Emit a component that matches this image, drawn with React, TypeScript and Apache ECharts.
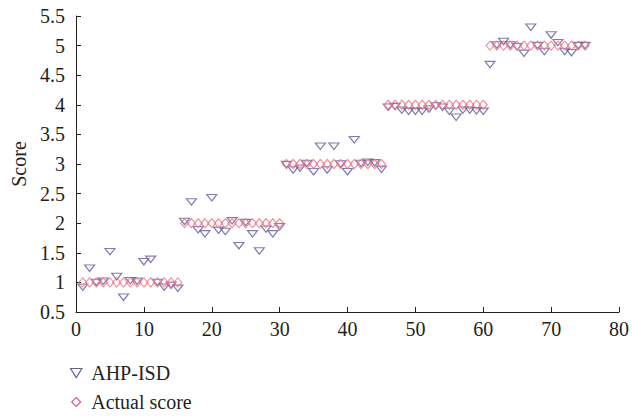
import React, { useEffect, useRef } from "react";
import * as echarts from "echarts";

const ahpIsd: number[] = [
  0.92, 1.24, 1.0, 1.02, 1.52, 1.1, 0.75, 1.03, 1.02, 1.35, 1.39, 1.0, 0.92, 0.95, 0.9,
  2.03, 2.36, 1.89, 1.82, 2.43, 1.88, 1.86, 2.04, 1.62, 2.01, 1.82, 1.53, 1.9, 1.82, 1.94,
  2.99, 2.9, 2.93, 3.01, 2.87, 3.3, 2.9, 3.3, 3.0, 2.87, 3.41, 3.01, 3.03, 3.02, 2.91,
  3.96, 3.97, 3.91, 3.89, 3.89, 3.89, 3.93, 3.98, 3.96, 3.89, 3.79, 3.91, 3.91, 3.9, 3.89,
  4.68, 5.01, 5.07, 5.01, 4.98, 4.87, 5.31, 5.0, 4.9, 5.18, 5.05, 4.9, 4.88, 5.0, 5.0,
];

const actualScore: number[] = [
  1, 1, 1, 1, 1, 1, 1, 1, 1, 1, 1, 1, 1, 1, 1,
  2, 2, 2, 2, 2, 2, 2, 2, 2, 2, 2, 2, 2, 2, 2,
  3, 3, 3, 3, 3, 3, 3, 3, 3, 3, 3, 3, 3, 3, 3,
  4, 4, 4, 4, 4, 4, 4, 4, 4, 4, 4, 4, 4, 4, 4,
  5, 5, 5, 5, 5, 5, 5, 5, 5, 5, 5, 5, 5, 5, 5,
];

const seriesNames = ["AHP-ISD", "Actual score"];
const yAxisName = "Score";

const FONT = "Liberation Serif";
const FS = 20;
const TEXT = "#231f20";
const TRI = "path://M0,0L10,0L5,8Z";
const DIA = "path://M5,0L10,5L5,10L0,5Z";

export default function App() {
  const ref = useRef<HTMLDivElement>(null);
  useEffect(() => {
    if (!ref.current) return;
    const chart = echarts.init(ref.current, undefined, { renderer: "svg" });
    const toPairs = (arr: number[]) => arr.map((v, i) => [i + 1, v]);
    chart.setOption({
      animation: false,
      backgroundColor: "#ffffff",
      textStyle: { fontFamily: FONT },
      grid: { left: 76, top: 16, width: 548, height: 296, containLabel: false },
      xAxis: {
        type: "value",
        min: 0,
        max: 80,
        interval: 10,
        axisLine: { lineStyle: { color: TEXT, width: 1 } },
        axisTick: { inside: true, length: 5, lineStyle: { color: TEXT } },
        axisLabel: { color: TEXT, fontFamily: FONT, fontSize: FS, margin: 7 },
        splitLine: { show: false },
      },
      yAxis: {
        type: "value",
        min: 0.5,
        max: 5.5,
        interval: 0.5,
        name: yAxisName,
        nameLocation: "middle",
        nameGap: 45,
        nameRotate: 90,
        nameTextStyle: { color: TEXT, fontFamily: FONT, fontSize: FS },
        axisLine: { show: true, lineStyle: { color: TEXT, width: 1 } },
        axisTick: { show: true, inside: true, length: 5, lineStyle: { color: TEXT } },
        axisLabel: { color: TEXT, fontFamily: FONT, fontSize: FS, margin: 11 },
        splitLine: { show: false },
      },
      legend: {
        orient: "vertical",
        left: 70,
        top: 362,
        padding: 0,
        itemWidth: 20,
        itemHeight: 9,
        itemGap: 7,
        symbolKeepAspect: true,
        textStyle: { color: TEXT, fontFamily: FONT, fontSize: FS, lineHeight: 22 },
        data: [
          { name: seriesNames[0], icon: TRI, itemStyle: { color: "rgba(255,255,255,0)", borderColor: "#3c3c7c", borderWidth: 1.2 } },
          { name: seriesNames[1], icon: DIA, itemStyle: { color: "rgba(255,255,255,0)", borderColor: "#d6335e", borderWidth: 1.2 } },
        ],
      },
      series: [
        {
          name: seriesNames[0],
          type: "scatter",
          symbol: TRI,
          symbolSize: [10, 8],
          symbolKeepAspect: true,
          itemStyle: { color: "rgba(255,255,255,0)", borderColor: "#5e5e98", borderWidth: 1.2 },
          data: toPairs(ahpIsd),
          z: 2,
        },
        {
          name: seriesNames[1],
          type: "scatter",
          symbol: "diamond",
          symbolSize: [8, 9],
          itemStyle: { color: "rgba(255,255,255,0)", borderColor: "#ee7486", borderWidth: 1.2 },
          data: toPairs(actualScore),
          z: 3,
        },
      ],
    });
    return () => chart.dispose();
  }, []);
  return (
    <div
      ref={ref}
      style={{ position: "fixed", left: 0, top: 0, width: 632, height: 417, background: "#fff" }}
    />
  );
}
